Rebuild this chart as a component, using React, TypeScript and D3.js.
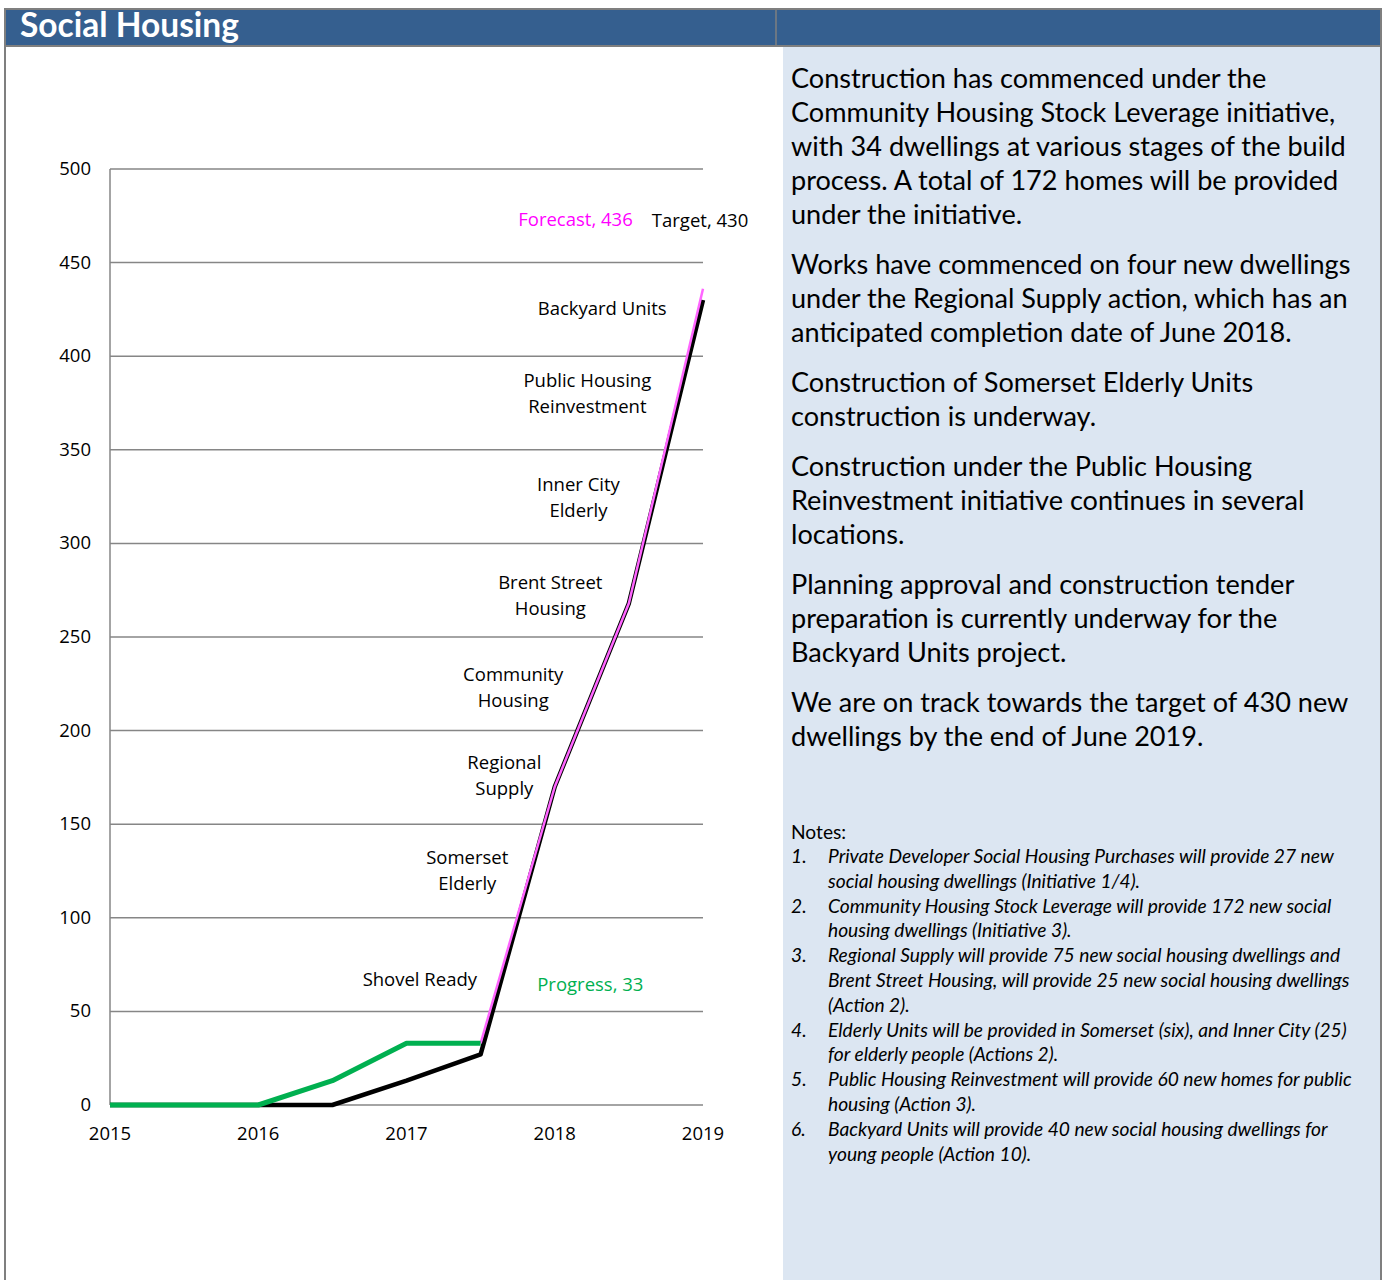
import * as d3 from 'd3';
import React from 'react';

// chart data
const years = [2015, 2015.5, 2016, 2016.5, 2017, 2017.5, 2018, 2018.5, 2019];
const target = [0, 0, 0, 0, 13, 27, 170, 268, 430];
const progressYears = [2015, 2015.5, 2016, 2016.5, 2017, 2017.5];
const progress = [0, 0, 0, 13, 33, 33];
const forecastYears = [2017.5, 2018, 2018.5, 2019];
const forecast = [33, 170, 268, 436];
const yTicks = [0, 50, 100, 150, 200, 250, 300, 350, 400, 450, 500];
const xTicks = [2015, 2016, 2017, 2018, 2019];

// stage labels: [lines, year, value, colour]
const labels: [string[], number, number, string][] = [
  [['Forecast, 436'], 2018.14, 473, '#ff00ff'],
  [['Target, 430'], 2018.98, 472, '#000000'],
  [['Backyard Units'], 2018.32, 425, '#000000'],
  [['Public Housing', 'Reinvestment'], 2018.22, 380, '#000000'],
  [['Inner City', 'Elderly'], 2018.16, 324, '#000000'],
  [['Brent Street', 'Housing'], 2017.97, 272, '#000000'],
  [['Community', 'Housing'], 2017.72, 223, '#000000'],
  [['Regional', 'Supply'], 2017.66, 176, '#000000'],
  [['Somerset', 'Elderly'], 2017.41, 125, '#000000'],
  [['Shovel Ready'], 2017.09, 67, '#000000'],
  [['Progress, 33'], 2018.24, 64, '#00b050'],
];

const paragraphs: string[][] = [
  [
    'Construction has commenced under the',
    'Community Housing Stock Leverage initiative,',
    'with 34 dwellings at various stages of the build',
    'process. A total of 172 homes will be provided',
    'under the initiative.',
  ],
  [
    'Works have commenced on four new dwellings',
    'under the Regional Supply action, which has an',
    'anticipated completion date of June 2018.',
  ],
  ['Construction of Somerset Elderly Units', 'construction is underway.'],
  [
    'Construction under the Public Housing',
    'Reinvestment initiative continues in several',
    'locations.',
  ],
  [
    'Planning approval and construction tender',
    'preparation is currently underway for the',
    'Backyard Units project.',
  ],
  [
    'We are on track towards the target of 430 new',
    'dwellings by the end of June 2019.',
  ],
];

const notes: string[][] = [
  ['Private Developer Social Housing Purchases will provide 27 new', 'social housing dwellings (Initiative 1/4).'],
  ['Community Housing Stock Leverage will provide 172 new social', 'housing dwellings (Initiative 3).'],
  [
    'Regional Supply will provide 75 new social housing dwellings and',
    'Brent Street Housing, will provide 25 new social housing dwellings',
    '(Action 2).',
  ],
  ['Elderly Units will be provided in Somerset (six), and Inner City (25)', 'for elderly people (Actions 2).'],
  ['Public Housing Reinvestment will provide 60 new homes for public', 'housing (Action 3).'],
  ['Backyard Units will provide 40 new social housing dwellings for', 'young people (Action 10).'],
];

const W = 1385;
const H = 1280;
const chartFont = '"Open Sans", "Noto Sans", sans-serif';
const textFont = 'Lato, "Noto Sans", sans-serif';

const App: React.FC = () => {
  const x = d3.scaleLinear().domain([2015, 2019]).range([110, 703]);
  const y = d3.scaleLinear().domain([0, 500]).range([1105, 169]);

  const line = d3
    .line<[number, number]>()
    .x((d) => x(d[0]))
    .y((d) => y(d[1]));

  const targetPath = line(years.map((yr, i) => [yr, target[i]]));
  const progressPath = line(progressYears.map((yr, i) => [yr, progress[i]]));
  const forecastPath = line(forecastYears.map((yr, i) => [yr, forecast[i]]));

  // right text layout
  const paraStart = 88;
  const paraLine = 34;
  const paraGap = 16;
  let cursor = paraStart;
  const paraLines: { t: string; y: number }[] = [];
  paragraphs.forEach((p) => {
    p.forEach((t) => {
      paraLines.push({ t, y: cursor });
      cursor += paraLine;
    });
    cursor += paraGap;
  });

  const noteLines: { n?: string; t: string; y: number }[] = [];
  let ny = 863;
  notes.forEach((n, i) => {
    n.forEach((t, j) => {
      noteLines.push({ n: j === 0 ? `${i + 1}.` : undefined, t, y: ny });
      ny += 24.8;
    });
  });

  return (
    <svg width={W} height={H} style={{ position: 'absolute', left: 0, top: 0 }}>
      <rect x={0} y={0} width={W} height={H} fill="#ffffff" />
      {/* panels */}
      <rect x={783} y={46} width={598} height={H - 46} fill="#dce6f2" />
      <line x1={5} y1={9} x2={5} y2={H} stroke="#7f7f7f" strokeWidth={2} />
      <line x1={1381} y1={9} x2={1381} y2={H} stroke="#7f7f7f" strokeWidth={2} />
      {/* header */}
      <rect x={5} y={9} width={1376} height={37} fill="#355f8f" stroke="#7f7f7f" strokeWidth={2} />
      <line x1={776} y1={9} x2={776} y2={46} stroke="#7f7f7f" strokeWidth={1.5} />
      <text x={20} y={37} fill="#ffffff" fontFamily={textFont} fontWeight={700} fontSize={33.5}>
        Social Housing
      </text>

      {/* grid */}
      {yTicks.map((t) => (
        <g key={t}>
          <line x1={x(2015)} x2={x(2019)} y1={y(t)} y2={y(t)} stroke="#868686" strokeWidth={1.5} />
          <text x={91} y={y(t) + 6} textAnchor="end" fontFamily={chartFont} fontSize={18.5} fill="#000">
            {t}
          </text>
        </g>
      ))}
      <line x1={x(2015)} x2={x(2015)} y1={y(500)} y2={y(0)} stroke="#868686" strokeWidth={1.5} />
      {xTicks.map((t) => (
        <text key={t} x={x(t)} y={1140} textAnchor="middle" fontFamily={chartFont} fontSize={18.5} fill="#000">
          {t}
        </text>
      ))}

      {/* lines */}
      <path d={targetPath ?? ''} fill="none" stroke="#000000" strokeWidth={4.5} strokeLinejoin="round" />
      <path d={forecastPath ?? ''} fill="none" stroke="#ff66ff" strokeWidth={2.5} strokeLinejoin="round" />
      <path d={progressPath ?? ''} fill="none" stroke="#00b050" strokeWidth={5} strokeLinejoin="round" />

      {/* labels */}
      {labels.map(([lines, yr, v, c], i) => {
        const cy = y(v) - ((lines.length - 1) * 26) / 2;
        return (
          <text key={i} textAnchor="middle" fontFamily={chartFont} fontSize={18.5} fill={c}>
            {lines.map((l, j) => (
              <tspan key={j} x={x(yr)} y={cy + j * 26 + 6}>
                {l}
              </tspan>
            ))}
          </text>
        );
      })}

      {/* commentary */}
      {paraLines.map((p, i) => (
        <text key={i} x={791} y={p.y} fontFamily={textFont} fontSize={27.1} fill="#000">
          {p.t}
        </text>
      ))}

      <text x={791} y={839} fontFamily={textFont} fontSize={19.2} fill="#000">
        Notes:
      </text>
      {noteLines.map((n, i) => (
        <g key={i}>
          {n.n && (
            <text x={791} y={n.y} fontFamily={textFont} fontStyle="italic" fontSize={19.2} fill="#000">
              {n.n}
            </text>
          )}
          <text x={828} y={n.y} fontFamily={textFont} fontStyle="italic" fontSize={19.2} fill="#000">
            {n.t}
          </text>
        </g>
      ))}
    </svg>
  );
};

export default App;
